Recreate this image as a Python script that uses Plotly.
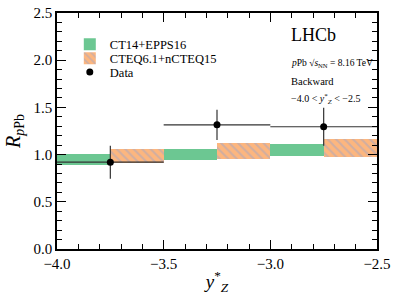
import plotly.graph_objects as go

# Data
data_x = [-3.75, -3.25, -2.75]
data_r = [0.92, 1.315, 1.295]
data_xerr = [0.25, 0.25, 0.25]
data_yerr = [0.175, 0.16, 0.2]

ct14_x = [-3.875, -3.375, -2.875]
ct14_lo = [0.895, 0.945, 0.99]
ct14_hi = [1.01, 1.06, 1.115]

cteq_x = [-3.625, -3.125, -2.625]
cteq_lo = [0.91, 0.95, 0.97]
cteq_hi = [1.06, 1.12, 1.17]

band_width = 0.25

FONT = "'Liberation Serif', 'DejaVu Serif', serif"

fig = go.Figure()
fig.add_trace(go.Bar(
    x=ct14_x, base=ct14_lo, y=[h - l for h, l in zip(ct14_hi, ct14_lo)],
    width=band_width, name="CT14+EPPS16", legend="legend",
    marker=dict(color="#6cc792", line=dict(width=0)),
))
fig.add_trace(go.Bar(
    x=cteq_x, base=cteq_lo, y=[h - l for h, l in zip(cteq_hi, cteq_lo)],
    width=band_width, name="CTEQ6.1+nCTEQ15", legend="legend2",
    marker=dict(color="#fdb67e", line=dict(width=0),
                pattern=dict(shape="\\", fgcolor="#a4a6c4", bgcolor="#fdb67e",
                             fillmode="overlay", size=6, solidity=0.35)),
))
fig.add_trace(go.Scatter(
    x=data_x, y=data_r, mode="markers", name="Data", legend="legend3",
    marker=dict(color="black", size=7),
    error_x=dict(type="data", array=data_xerr, color="#333333", thickness=1.2, width=0),
    error_y=dict(type="data", array=data_yerr, color="#333333", thickness=1.2, width=0),
))

leg = dict(x=0.04, xanchor="left", yanchor="middle", bgcolor="rgba(0,0,0,0)",
           font=dict(family=FONT, size=12.5), itemwidth=30)

fig.update_layout(
    width=399, height=301,
    margin=dict(l=57, r=22, t=13, b=52),
    plot_bgcolor="white", paper_bgcolor="white",
    barmode="overlay", bargap=0,
    font=dict(family=FONT, size=15, color="black"),
    showlegend=True,
    legend=dict(y=0.866, **leg),
    legend2=dict(y=0.807, **leg),
    legend3=dict(y=0.748, **leg),
)

axis_common = dict(
    showline=True, linecolor="black", linewidth=1.5, mirror="allticks",
    ticks="inside", ticklen=9, tickwidth=1.3, tickcolor="black",
    showgrid=False, zeroline=False, automargin=False,
    tickfont=dict(family=FONT, size=15),
)
fig.update_xaxes(
    range=[-4.0, -2.5], dtick=0.5, tickformat=".1f",
    minor=dict(dtick=0.1, ticks="inside", ticklen=5, tickwidth=1, tickcolor="black"),
    title=dict(text="<i>y</i><sup>*</sup><sub><i>Z</i></sub>", font=dict(family=FONT, size=19), standoff=4),
    **axis_common,
)
fig.update_yaxes(
    range=[0, 2.5], dtick=0.5, tickformat=".1f",
    minor=dict(dtick=0.1, ticks="inside", ticklen=5, tickwidth=1, tickcolor="black"),
    title=dict(text="<i>R</i><sub><i>p</i>Pb</sub>", font=dict(family=FONT, size=20), standoff=8),
    **axis_common,
)

fig.add_annotation(xref="paper", yref="paper", x=0.725, y=0.905, xanchor="left", yanchor="middle",
                   text="LHCb", showarrow=False, font=dict(family=FONT, size=18))
fig.add_annotation(xref="paper", yref="paper", x=0.725, y=0.785, xanchor="left", yanchor="middle",
                   text="<i>p</i>Pb √<i>s</i><sub>NN</sub> = 8.16 TeV", showarrow=False,
                   font=dict(family=FONT, size=9.5))
fig.add_annotation(xref="paper", yref="paper", x=0.725, y=0.71, xanchor="left", yanchor="middle",
                   text="Backward", showarrow=False, font=dict(family=FONT, size=10.5))
fig.add_annotation(xref="paper", yref="paper", x=0.725, y=0.635, xanchor="left", yanchor="middle",
                   text="−4.0 &lt; <i>y</i><sup>*</sup><sub><i>Z</i></sub> &lt; −2.5", showarrow=False,
                   font=dict(family=FONT, size=10))

fig.write_html("out.html", config={"displayModeBar": False},
               post_script="document.body.style.margin='0';")
